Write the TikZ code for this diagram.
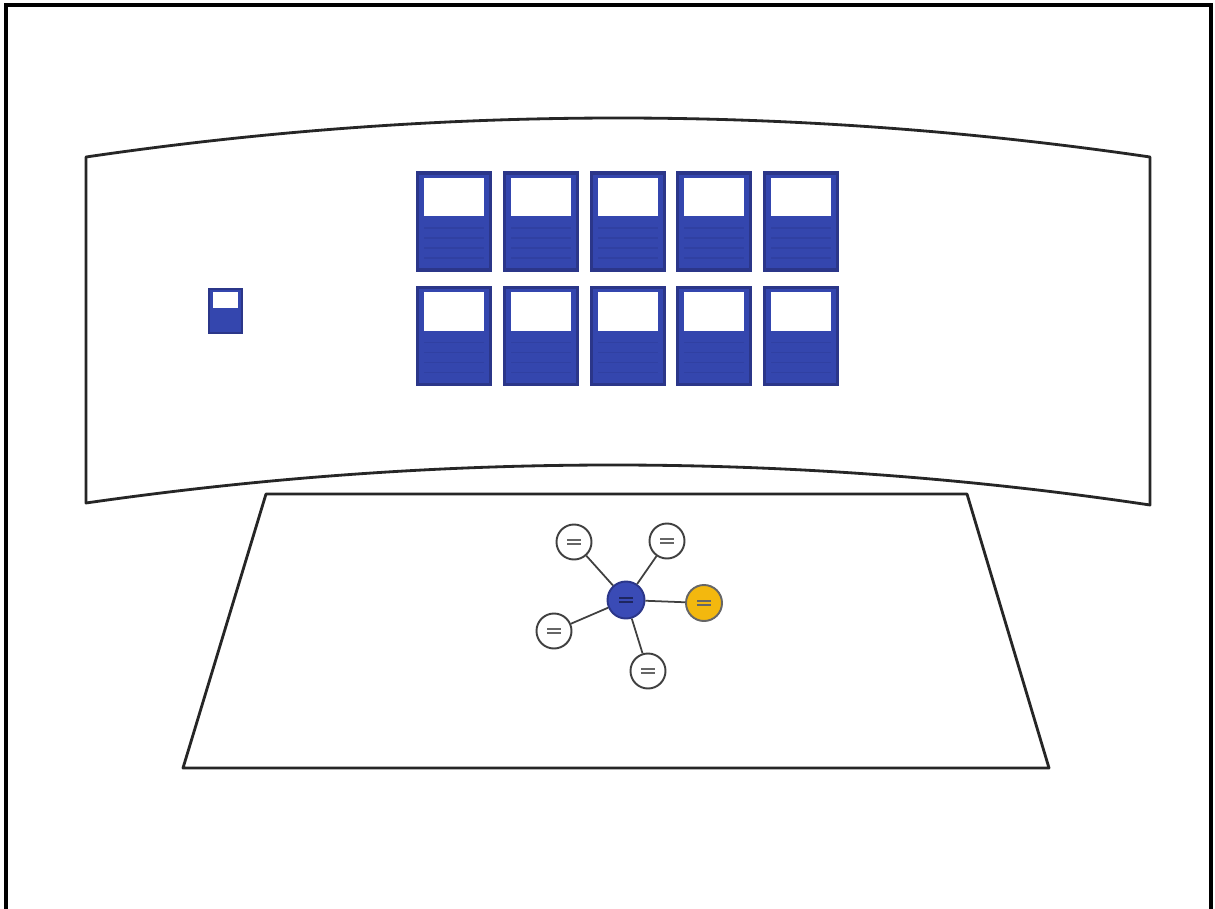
\documentclass[tikz,border=0pt]{standalone}
\definecolor{navy}{HTML}{2B3689}
\definecolor{cardblue}{HTML}{3446AE}
\definecolor{cardline}{HTML}{3040A2}
\definecolor{hubblue}{HTML}{3A4BB6}
\definecolor{gold}{HTML}{F3B80E}
\tikzset{
  outline/.style={draw=black!85, line width=0.8pt, line join=round},
  card/.style={draw=navy, fill=cardblue, line width=0.9pt, minimum width=0.73cm, minimum height=0.97cm, inner sep=0pt, outer sep=0pt},
  smallcard/.style={draw=navy, fill=cardblue, line width=0.6pt, minimum width=0.33cm, minimum height=0.44cm, inner sep=0pt, outer sep=0pt},
  bubble/.style={circle, draw=black!75, fill=white, line width=0.55pt, minimum size=0.35cm, inner sep=0pt},
  hub/.style={circle, draw=navy, fill=hubblue, line width=0.55pt, minimum size=0.37cm, inner sep=0pt},
  goldbubble/.style={circle, draw=black!60, fill=gold, line width=0.55pt, minimum size=0.36cm, inner sep=0pt},
  link/.style={draw=black!75, line width=0.5pt},
  textline/.style={draw=black!60, line width=0.45pt}
}
\begin{document}
\begin{tikzpicture}[x=0.01cm,y=-0.01cm]
\useasboundingbox (0,0) rectangle (1215,909);
\fill[white] (0,0) rectangle (1215,909);
% frame
\draw[line width=0.9pt, black] (6,912) -- (6,5) -- (1211,5) -- (1211,912);
% curved screen
\draw[outline] (86,157) .. controls (441,105) and (795,105) .. (1150,157)
  -- (1150,505) .. controls (795,452) and (441,452) .. (86,503) -- cycle;
% table
\draw[outline] (266,494) -- (967,494) -- (1049,768) -- (183,768) -- cycle;
% cards
\foreach \r/\y in {a/221.5,b/336}{
  \foreach \i/\x in {1/454,2/541,3/628,4/714,5/801}{
    \node[card] (card\r\i) at (\x,\y) {};
    \fill[white] ([xshift=0.07cm,yshift=-0.05cm]card\r\i.north west) rectangle ([xshift=-0.07cm,yshift=-0.43cm]card\r\i.north east);
    \foreach \k in {0.55,0.65,0.75,0.85}{
      \draw[cardline, line width=0.4pt] ([xshift=0.07cm,yshift=-\k cm]card\r\i.north west) -- ([xshift=-0.07cm,yshift=-\k cm]card\r\i.north east);
    }
  }
}
% small card
\node[smallcard] (small) at (225.5,311) {};
\fill[white] ([xshift=0.04cm,yshift=-0.03cm]small.north west) rectangle ([xshift=-0.04cm,yshift=-0.19cm]small.north east);
% network
\node[hub] (hub) at (626,600) {};
\node[bubble] (n1) at (574,542) {};
\node[bubble] (n2) at (667,541) {};
\node[bubble] (n3) at (554,631) {};
\node[bubble] (n4) at (648,671) {};
\node[goldbubble] (n5) at (704,603) {};
\foreach \n in {n1,n2,n3,n4,n5}{\draw[link] (hub) -- (\n);}
\foreach \n in {n1,n2,n3,n4}{
  \draw[textline] ([xshift=-0.07cm,yshift=0.02cm]\n.center) -- ([xshift=0.07cm,yshift=0.02cm]\n.center);
  \draw[textline] ([xshift=-0.07cm,yshift=-0.02cm]\n.center) -- ([xshift=0.07cm,yshift=-0.02cm]\n.center);
}
\draw[navy!70!black, line width=0.45pt] ([xshift=-0.07cm,yshift=0.02cm]hub.center) -- ([xshift=0.07cm,yshift=0.02cm]hub.center);
\draw[navy!70!black, line width=0.45pt] ([xshift=-0.07cm,yshift=-0.02cm]hub.center) -- ([xshift=0.07cm,yshift=-0.02cm]hub.center);
\draw[black!60, line width=0.45pt] ([xshift=-0.07cm,yshift=0.02cm]n5.center) -- ([xshift=0.07cm,yshift=0.02cm]n5.center);
\draw[black!60, line width=0.45pt] ([xshift=-0.07cm,yshift=-0.02cm]n5.center) -- ([xshift=0.07cm,yshift=-0.02cm]n5.center);
\end{tikzpicture}
\end{document}
